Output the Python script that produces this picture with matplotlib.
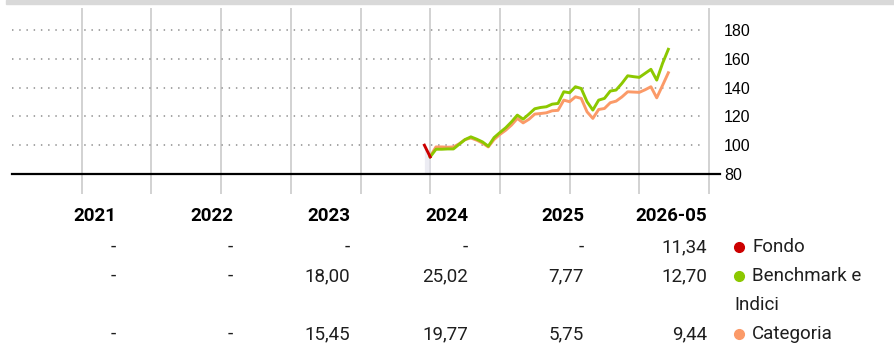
import numpy as np
import matplotlib.pyplot as plt
from matplotlib.patches import Rectangle

# serie mensili (base 100), da dicembre 2022
fondo = [100.0, 91.9]
benchmark = [91.9, 97.2, 97.2, 97.4, 97.4, 100.7, 103.9, 105.8, 104.2, 102.3,
             99.3, 105.3, 108.8, 112.1, 116.2, 120.9, 118.1, 121.6, 125.3, 126.2,
             126.7, 128.5, 129.0, 137.1, 136.4, 140.6, 139.4, 130.2, 124.4, 131.3,
             132.5, 137.6, 138.3, 142.9, 148.2, 147.6, 147.1, 149.9, 152.7, 145.2,
             156.8, 166.6]
categoria = [92.3, 98.8, 98.8, 98.6, 98.8, 101.0, 103.9, 105.0, 103.5, 101.5,
             98.8, 104.0, 107.5, 110.4, 114.0, 118.6, 115.5, 118.0, 121.6, 122.0,
             122.5, 123.9, 124.2, 131.3, 130.2, 133.6, 132.5, 123.2, 118.6, 124.8,
             125.5, 129.5, 130.6, 133.5, 137.1, 136.9, 136.7, 138.5, 140.6, 132.9,
             141.5, 150.3]

# rendimenti annuali
anni = ['2021', '2022', '2023', '2024', '2025', '2026-05']
rend_fondo = [None, None, None, None, None, 11.34]
rend_benchmark = [None, None, 18.00, 25.02, 7.77, 12.70]
rend_categoria = [None, None, 15.45, 19.77, 5.75, 9.44]
y_ticks = [80, 100, 120, 140, 160, 180]

ROSSO = '#cc0000'
VERDE = '#8cc800'
ARANCIO = '#fb9a68'
narrow = ['Roboto', 'DejaVu Sans']

W, H = 894, 361
fig = plt.figure(figsize=(W / 100, H / 100), dpi=100)

def fx(px):
    return px / W

def fy(py):
    return 1 - py / H

# barra grigia in alto
fig.patches.append(Rectangle((fx(6), fy(4)), 1 - fx(6), 4 / H, transform=fig.transFigure,
                             color='#d9d9d9', zorder=0))

ax = fig.add_axes([fx(12), fy(194), fx(720) - fx(12), fy(8) - fy(194)])
px_anno = 69.7
x0 = 2017
ax.set_xlim(x0, x0 + (720 - 12) / px_anno)
ax.set_ylim(80 - 20 / 1.44, 180 + 22 / 1.44)

for a in range(2018, 2028):
    ax.axvline(a, color='#cbcbcb', lw=1.2, zorder=1)
for v in y_ticks[1:]:
    ax.plot([x0, x0 + (703 - 12) / px_anno], [v, v], color='#9e9e9e', lw=1.3,
            dashes=(0.8, 3.2), zorder=1)
ax.plot([x0, x0 + (720 - 12) / px_anno], [80, 80], color='black', lw=1.6, zorder=2,
        clip_on=False)

x_f = 2023 + (np.arange(len(fondo)) - 1) / 12
x_s = 2023 + np.arange(len(benchmark)) / 12

ax.fill_between(x_f, fondo, 80, color='#e4e4ee', alpha=0.7, lw=0, zorder=1.5)
ax.plot(x_s, categoria, color=ARANCIO, lw=2.1, zorder=3)
ax.plot(x_s, benchmark, color=VERDE, lw=2.1, zorder=4)
ax.plot(x_f, fondo, color=ROSSO, lw=2.1, zorder=5)

ax.yaxis.tick_right()
ax.set_yticks(y_ticks)
ax.set_yticklabels([str(t) for t in y_ticks], fontsize=11.5, family='Liberation Sans')
ax.tick_params(axis='y', length=0, pad=3)
ax.set_xticks([])
for s in ax.spines.values():
    s.set_visible(False)

# tabella rendimenti
col_dx = [116, 233, 350, 468, 584, 707]
righe_y = [247, 276, 334]

def fmt(v):
    return '-' if v is None else f'{v:.2f}'.replace('.', ',')

for x, a in zip(col_dx, anni):
    fig.text(fx(x), fy(216), a, ha='right', va='center', fontsize=13.5,
             fontweight='bold', family=narrow, color='black')
for serie, y in zip([rend_fondo, rend_benchmark, rend_categoria], righe_y):
    for x, v in zip(col_dx, serie):
        fig.text(fx(x), fy(y), fmt(v), ha='right', va='center', fontsize=13.5,
                 family=narrow, color='#1e1e1e')

# legenda
for col, nome, y in [(ROSSO, 'Fondo', 247), (VERDE, 'Benchmark e', 276),
                     (ARANCIO, 'Categoria', 334)]:
    fig.text(fx(752), fy(y), nome, ha='left', va='center', fontsize=13.5,
             family=narrow, color='#1e1e1e')
    ax.plot([fx(739)], [fy(y)], 'o', ms=7, color=col, transform=fig.transFigure,
            clip_on=False)
fig.text(fx(734), fy(305), 'Indici', ha='left', va='center', fontsize=13.5,
         family=narrow, color='#1e1e1e')

fig.savefig('out.png', dpi=100)
